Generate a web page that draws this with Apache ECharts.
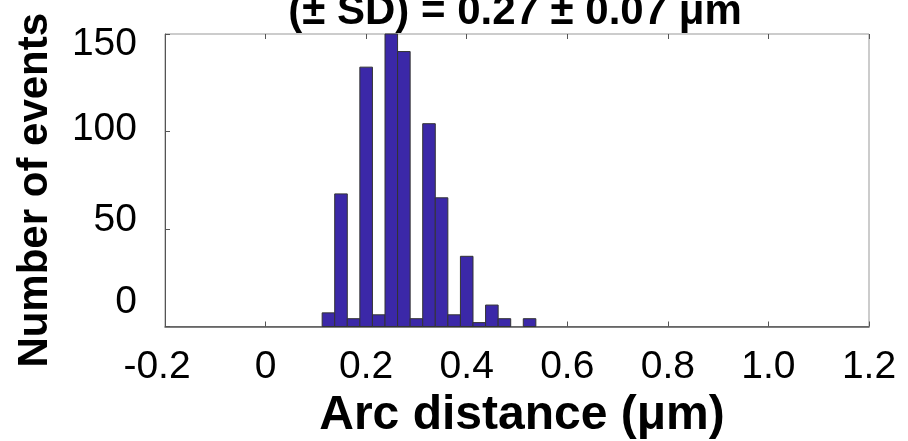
<!DOCTYPE html>
<html>
<head>
<meta charset="utf-8">
<script src="https://cdn.jsdelivr.net/npm/echarts@6/dist/echarts.min.js"></script>
<style>
  html, body { margin: 0; padding: 0; background: #fff; }
  #main { width: 908px; height: 441px; }
</style>
</head>
<body>
<div id="main"></div>
<script>
// bin centres (μm) and counts
var binCenters = [0.125, 0.15, 0.175, 0.2, 0.225, 0.25, 0.275, 0.3, 0.325, 0.35, 0.375, 0.4, 0.425, 0.45, 0.475, 0.5, 0.525];
var counts = [7, 68, 4, 133, 6, 150, 141, 4, 104, 66, 6, 36, 2, 11, 4, 0, 4];
var binWidth = 0.025;
var xTicks = ['-0.2', '0', '0.2', '0.4', '0.6', '0.8', '1.0', '1.2'];
var yTicks = ['0', '50', '100', '150'];

var chart = echarts.init(document.getElementById('main'));

var data = binCenters.map(function (c, i) { return [c, counts[i]]; });

// y tick labels sit a little off their ticks in the original
var yPad = { '0': [0, 0, 48, 0], '50': [0, 0, 18, 0], '100': [0, 0, 4, 0], '150': [20, 0, 0, 0] };

var option = {
    backgroundColor: '#fff',
    animation: false,
    title: {
        text: '(± SD) = 0.27 ± 0.07 μm',
        left: 510,
        textAlign: 'center',
        top: -14,
        textStyle: { fontFamily: 'Liberation Sans', fontWeight: 'bold', fontSize: 42, color: '#000' }
    },
    grid: {
        left: 165, right: 39, top: 34, bottom: 114.5,
        outerBoundsMode: 'none',
        show: true, borderColor: '#999', borderWidth: 1
    },
    xAxis: [{
        type: 'value',
        min: -0.2, max: 1.2, interval: 0.2,
        name: 'Arc distance (μm)',
        nameLocation: 'middle',
        nameGap: 55,
        nameTextStyle: { fontFamily: 'Liberation Sans', fontWeight: 'bold', fontSize: 48, color: '#000', padding: [0, 0, 0, 10] },
        axisLine: { show: true, onZero: false, lineStyle: { color: '#555', width: 1.5 } },
        axisTick: { show: true, inside: true, length: 5, lineStyle: { color: '#555' } },
        splitLine: { show: false },
        axisLabel: {
            margin: 21,
            fontFamily: 'Liberation Sans', fontSize: 39, color: '#000',
            formatter: function (v) {
                var s = xTicks[Math.round((v + 0.2) / 0.2)];
                return s === '-0.2' ? '{n|' + s + '}' : s;
            },
            rich: { n: { fontFamily: 'Liberation Sans', fontSize: 39, color: '#000', padding: [0, 16, 0, 0] } }
        }
    }, {
        type: 'value',
        position: 'top',
        min: -0.2, max: 1.2, interval: 0.2,
        axisLine: { show: false, onZero: false },
        axisTick: { show: true, inside: true, length: 5, lineStyle: { color: '#555' } },
        axisLabel: { show: false },
        splitLine: { show: false }
    }],
    yAxis: {
        type: 'value',
        min: 0, max: 150, interval: 50,
        name: 'Number of events',
        nameLocation: 'middle',
        nameGap: 109,
        nameTextStyle: { fontFamily: 'Liberation Sans', fontWeight: 'bold', fontSize: 42, color: '#000', padding: [0, 20, 0, 0] },
        axisLine: { show: true, onZero: false, lineStyle: { color: '#555' } },
        axisTick: { show: true, inside: true, length: 5, lineStyle: { color: '#555' } },
        splitLine: { show: false },
        axisLabel: {
            margin: 28,
            formatter: function (v) {
                var s = yTicks[Math.round(v / 50)];
                return '{v' + s + '|' + s + '}';
            },
            rich: (function () {
                var r = {};
                yTicks.forEach(function (t) {
                    r['v' + t] = { fontFamily: 'Liberation Sans', fontSize: 39, color: '#000', padding: yPad[t] };
                });
                return r;
            })()
        }
    },
    series: [{
        type: 'custom',
        xAxisIndex: 0,
        renderItem: function (params, api) {
            var c = api.value(0), n = api.value(1);
            if (!n) return;
            var p0 = api.coord([c - binWidth / 2, n]);
            var p1 = api.coord([c + binWidth / 2, 0]);
            return {
                type: 'rect',
                shape: { x: p0[0], y: p0[1], width: p1[0] - p0[0], height: p1[1] - p0[1] },
                style: { fill: '#3b28a8', stroke: '#333', lineWidth: 1 }
            };
        },
        encode: { x: 0, y: 1 },
        data: data
    }]
};

chart.setOption(option);
</script>
</body>
</html>
